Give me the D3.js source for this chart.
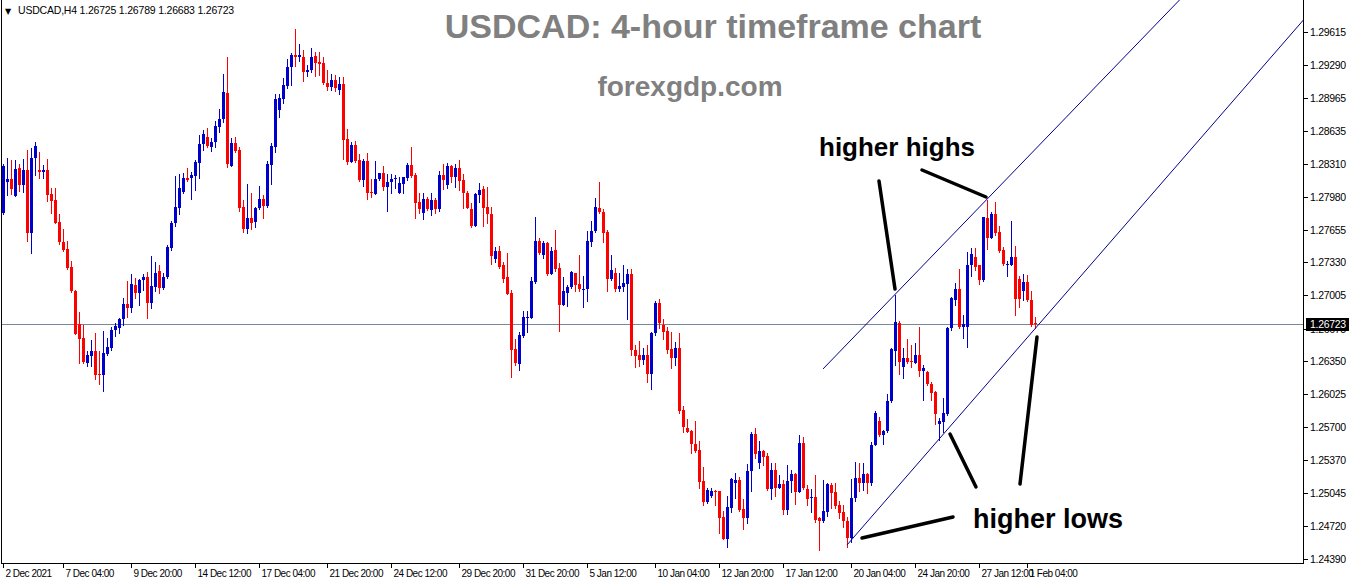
<!DOCTYPE html>
<html><head><meta charset="utf-8">
<script src="https://cdn.jsdelivr.net/npm/d3@7"></script>
<style>body{margin:0;background:#fff}svg{display:block}</style>
</head><body><svg id="c" width="1350" height="584"></svg>
<script>
const openP=[1.2782,1.2813,1.2816,1.2799,1.2827,1.2810,1.2825,1.2762,1.2837,1.2825,1.2823,1.2825,1.2801,1.2795,1.2773,1.2753,1.2746,1.2729,1.2705,1.2672,1.2658,1.2633,1.2640,1.2645,1.2622,1.2621,1.2642,1.2648,1.2666,1.2668,
1.2677,1.2692,1.2688,1.2711,1.2703,1.2716,1.2719,1.2693,1.2709,1.2725,1.2708,1.2719,1.2747,1.2772,1.2787,1.2803,1.2817,1.2817,1.2819,1.2832,1.2850,1.2857,1.2847,1.2852,1.2867,1.2875,1.2901,1.2829,1.2851,1.2845,
1.2788,1.2766,1.2777,1.2773,1.2787,1.2796,1.2789,1.2830,1.2847,1.2884,1.2895,1.2908,1.2927,1.2939,1.2937,1.2937,1.2922,1.2924,1.2938,1.2932,1.2931,1.2911,1.2907,1.2914,1.2904,1.2910,1.2855,1.2833,1.2849,1.2835,
1.2815,1.2834,1.2803,1.2801,1.2816,1.2822,1.2808,1.2813,1.2816,1.2802,1.2811,1.2817,1.2830,1.2820,1.2793,1.2782,1.2796,1.2785,1.2795,1.2786,1.2820,1.2810,1.2829,1.2818,1.2827,1.2815,1.2802,1.2786,1.2769,1.2800,
1.2806,1.2788,1.2781,1.2736,1.2744,1.2730,1.2719,1.2703,1.2647,1.2632,1.2660,1.2678,1.2678,1.2714,1.2754,1.2740,1.2752,1.2722,1.2745,1.2728,1.2691,1.2703,1.2709,1.2723,1.2712,1.2706,1.2707,1.2753,1.2764,1.2787,
1.2783,1.2763,1.2717,1.2723,1.2707,1.2709,1.2712,1.2722,1.2646,1.2641,1.2636,1.2641,1.2622,1.2663,1.2693,1.2671,1.2665,1.2647,1.2638,1.2648,1.2587,1.2569,1.2566,1.2553,1.2547,1.2516,1.2496,1.2501,1.2506,1.2506,
1.2481,1.2459,1.2490,1.2514,1.2517,1.2489,1.2480,1.2526,1.2563,1.2534,1.2546,1.2541,1.2508,1.2527,1.2509,1.2513,1.2488,1.2516,1.2523,1.2505,1.2554,1.2508,1.2499,1.2500,1.2480,1.2477,1.2486,1.2512,1.2505,1.2493,
1.2486,1.2477,1.2460,1.2499,1.2519,1.2514,1.2523,1.2514,1.2552,1.2576,1.2562,1.2566,1.2596,1.2645,1.2673,1.2629,1.2638,1.2635,1.2633,1.2641,1.2625,1.2624,1.2613,1.2605,1.2573,1.2575,1.2583,1.2668,1.2696,1.2707,
1.2669,1.2669,1.2730,1.2738,1.2730,1.2716,1.2777,1.2757,1.2781,1.2763,1.2745,1.2730,1.2730,1.2738,1.2717,1.2705,1.2714,1.2696,1.26725];
const highP=[1.2831,1.2837,1.2835,1.2835,1.2831,1.2836,1.2845,1.2846,1.2852,1.2843,1.2830,1.2836,1.2807,1.2807,1.2781,1.2766,1.2754,1.2734,1.2706,1.2684,1.2671,1.2645,1.2656,1.2663,1.2645,1.2665,1.2658,1.2669,1.2673,1.2678,
1.2698,1.2715,1.2722,1.2718,1.2717,1.2722,1.2724,1.2739,1.2733,1.2730,1.2723,1.2750,1.2774,1.2819,1.2821,1.2822,1.2827,1.2823,1.2835,1.2859,1.2864,1.2866,1.2856,1.2873,1.2885,1.2920,1.2937,1.2856,1.2857,1.2847,
1.2795,1.2811,1.2802,1.2788,1.2809,1.2800,1.2834,1.2851,1.2900,1.2900,1.2916,1.2935,1.2941,1.2964,1.2950,1.2944,1.2929,1.2946,1.2942,1.2942,1.2937,1.2924,1.2920,1.2919,1.2917,1.2917,1.2865,1.2852,1.2853,1.2841,
1.2836,1.2842,1.2816,1.2834,1.2822,1.2829,1.2821,1.2821,1.2820,1.2818,1.2818,1.2832,1.2847,1.2822,1.2802,1.2802,1.2798,1.2802,1.2797,1.2824,1.2831,1.2832,1.2830,1.2831,1.2835,1.2821,1.2804,1.2792,1.2802,1.2812,
1.2809,1.2808,1.2788,1.2748,1.2749,1.2733,1.2742,1.2706,1.2657,1.2664,1.2685,1.2685,1.2719,1.2778,1.2757,1.2754,1.2753,1.2748,1.2765,1.2732,1.2719,1.2711,1.2725,1.2723,1.2740,1.2720,1.2764,1.2774,1.2797,1.2813,
1.2786,1.2765,1.2740,1.2728,1.2723,1.2730,1.2727,1.2727,1.2651,1.2655,1.2648,1.2651,1.2664,1.2695,1.2697,1.2677,1.2669,1.2664,1.2654,1.2663,1.2591,1.2578,1.2567,1.2576,1.2556,1.2530,1.2509,1.2509,1.2507,1.2506,
1.2487,1.2501,1.2519,1.2524,1.2520,1.2498,1.2533,1.2565,1.2569,1.2556,1.2547,1.2544,1.2534,1.2534,1.2522,1.2517,1.2532,1.2527,1.2524,1.2562,1.2560,1.2512,1.2508,1.2522,1.2481,1.2517,1.2514,1.2514,1.2514,1.2497,
1.2493,1.2481,1.2518,1.2535,1.2534,1.2534,1.2524,1.2555,1.2586,1.2580,1.2567,1.2603,1.2648,1.2701,1.2675,1.2648,1.2657,1.2651,1.2653,1.2669,1.2631,1.2625,1.2614,1.2606,1.2579,1.2599,1.2669,1.2699,1.2713,1.2727,
1.2681,1.2743,1.2747,1.2747,1.2730,1.2778,1.2795,1.2783,1.2793,1.2769,1.2748,1.2734,1.2774,1.2749,1.2720,1.2722,1.2721,1.2705,1.26789];
const lowP=[1.2781,1.2800,1.2801,1.2799,1.2804,1.2803,1.2754,1.2742,1.2820,1.2817,1.2817,1.2794,1.2782,1.2772,1.2751,1.2744,1.2727,1.2704,1.2662,1.2633,1.2633,1.2630,1.2630,1.2617,1.2613,1.2606,1.2641,1.2646,1.2660,1.2663,
1.2671,1.2679,1.2684,1.2698,1.2691,1.2706,1.2678,1.2688,1.2705,1.2703,1.2707,1.2718,1.2745,1.2769,1.2781,1.2802,1.2814,1.2796,1.2805,1.2817,1.2845,1.2847,1.2844,1.2847,1.2862,1.2872,1.2828,1.2829,1.2843,1.2784,
1.2763,1.2762,1.2766,1.2768,1.2786,1.2777,1.2788,1.2811,1.2843,1.2877,1.2891,1.2906,1.2909,1.2928,1.2933,1.2913,1.2918,1.2922,1.2918,1.2919,1.2910,1.2904,1.2904,1.2903,1.2900,1.2836,1.2831,1.2833,1.2833,1.2814,
1.2809,1.2796,1.2798,1.2801,1.2815,1.2805,1.2784,1.2802,1.2807,1.2802,1.2802,1.2815,1.2818,1.2777,1.2782,1.2776,1.2785,1.2780,1.2782,1.2784,1.2806,1.2807,1.2813,1.2808,1.2805,1.2787,1.2787,1.2768,1.2769,1.2793,
1.2769,1.2772,1.2731,1.2733,1.2728,1.2714,1.2702,1.2619,1.2631,1.2626,1.2659,1.2664,1.2678,1.2713,1.2741,1.2737,1.2721,1.2722,1.2725,1.2665,1.2691,1.2690,1.2708,1.2705,1.2705,1.2689,1.2695,1.2749,1.2763,1.2782,
1.2753,1.2705,1.2716,1.2705,1.2705,1.2705,1.2677,1.2641,1.2629,1.2630,1.2632,1.2614,1.2608,1.2661,1.2668,1.2657,1.2643,1.2628,1.2631,1.2584,1.2565,1.2565,1.2544,1.2545,1.2509,1.2493,1.2495,1.2500,1.2493,1.2465,
1.2459,1.2451,1.2486,1.2499,1.2487,1.2469,1.2475,1.2506,1.2539,1.2529,1.2532,1.2507,1.2498,1.2501,1.2509,1.2484,1.2484,1.2505,1.2494,1.2505,1.2508,1.2493,1.2486,1.2476,1.2448,1.2476,1.2482,1.2490,1.2490,1.2480,
1.2471,1.2451,1.2456,1.2497,1.2506,1.2507,1.2504,1.2512,1.2552,1.2561,1.2553,1.2565,1.2595,1.2631,1.2622,1.2618,1.2633,1.2629,1.2633,1.2620,1.2597,1.2612,1.2597,1.2573,1.2557,1.2565,1.2582,1.2666,1.2691,1.2668,
1.2658,1.2649,1.2720,1.2726,1.2712,1.2715,1.2746,1.2757,1.2760,1.2743,1.2730,1.2720,1.2730,1.2681,1.2689,1.2696,1.2695,1.2670,1.26683];
const closeP=[1.2829,1.2816,1.2806,1.2826,1.2810,1.2825,1.2762,1.2837,1.2848,1.2823,1.2825,1.2800,1.2794,1.2772,1.2753,1.2745,1.2728,1.2705,1.2662,1.2657,1.2634,1.2641,1.2645,1.2621,1.2621,1.2643,1.2649,1.2666,1.2670,1.2677,
1.2692,1.2688,1.2712,1.2703,1.2716,1.2719,1.2693,1.2710,1.2723,1.2708,1.2719,1.2748,1.2772,1.2788,1.2807,1.2817,1.2815,1.2820,1.2833,1.2850,1.2860,1.2848,1.2852,1.2868,1.2875,1.2902,1.2831,1.2851,1.2844,1.2787,
1.2766,1.2777,1.2772,1.2787,1.2796,1.2789,1.2831,1.2848,1.2895,1.2896,1.2909,1.2927,1.2939,1.2937,1.2939,1.2922,1.2924,1.2937,1.2931,1.2930,1.2911,1.2907,1.2914,1.2906,1.2910,1.2854,1.2833,1.2849,1.2834,1.2815,
1.2834,1.2802,1.2802,1.2816,1.2822,1.2808,1.2813,1.2816,1.2817,1.2812,1.2818,1.2830,1.2819,1.2792,1.2786,1.2796,1.2786,1.2795,1.2786,1.2820,1.2815,1.2829,1.2818,1.2827,1.2814,1.2802,1.2787,1.2769,1.2801,1.2805,
1.2787,1.2781,1.2739,1.2744,1.2729,1.2717,1.2702,1.2646,1.2633,1.2661,1.2679,1.2679,1.2715,1.2754,1.2742,1.2752,1.2722,1.2744,1.2727,1.2691,1.2705,1.2709,1.2724,1.2711,1.2707,1.2707,1.2754,1.2764,1.2788,1.2783,
1.2762,1.2717,1.2726,1.2707,1.2710,1.2713,1.2722,1.2646,1.2640,1.2636,1.2641,1.2622,1.2663,1.2693,1.2673,1.2664,1.2646,1.2638,1.2648,1.2586,1.2570,1.2565,1.2553,1.2546,1.2515,1.2496,1.2507,1.2506,1.2505,1.2480,
1.2459,1.2491,1.2518,1.2517,1.2488,1.2480,1.2526,1.2563,1.2543,1.2546,1.2540,1.2508,1.2527,1.2509,1.2513,1.2488,1.2516,1.2523,1.2505,1.2554,1.2509,1.2498,1.2500,1.2478,1.2477,1.2487,1.2513,1.2504,1.2492,1.2485,
1.2477,1.2460,1.2499,1.2519,1.2514,1.2523,1.2514,1.2552,1.2584,1.2562,1.2566,1.2596,1.2647,1.2674,1.2634,1.2638,1.2634,1.2634,1.2641,1.2625,1.2628,1.2613,1.2604,1.2583,1.2576,1.2584,1.2668,1.2698,1.2707,1.2669,
1.2672,1.2730,1.2741,1.2729,1.2716,1.2778,1.2757,1.2781,1.2762,1.2744,1.2731,1.2731,1.2738,1.2697,1.2697,1.2714,1.2696,1.2671,1.26723];

const priceTicks=[1.29615,1.29290,1.28965,1.28635,1.28310,1.27980,1.27655,1.27330,1.27005,1.26675,1.26350,1.26025,1.25700,1.25370,1.25045,1.24720,1.24390];
const dateLabels=["2 Dec 2021","7 Dec 04:00","9 Dec 20:00","14 Dec 12:00","17 Dec 04:00","21 Dec 20:00","24 Dec 12:00","29 Dec 20:00","31 Dec 20:00","5 Jan 12:00","10 Jan 04:00","12 Jan 20:00","17 Jan 12:00","20 Jan 04:00","24 Jan 20:00","27 Jan 12:00","1 Feb 04:00"];
const dateBars=[0,15,32,48,64,81,97,114,130,146,163,179,195,212,228,244,256];
const lastBar={open:1.26725,high:1.26789,low:1.26683,close:1.26723};
// trend lines: [barIndex, price] anchors
const upperLine=[[205,1.26274],[246,1.27957]];
const lowerLine=[[211,1.24529],[258,1.26673]];

const n=closeP.length;
const svg=d3.select("#c");
const L=2,R=1303,T=0,B=563;
const FONT="Liberation Sans, Arial, sans-serif";
const x=d3.scaleLinear().domain([0,n-1]).range([3,3+4*(n-1)]);
const y=d3.scaleLinear().domain([1.24390,1.29615]).range([559,32]);
const px=i=>Math.round(x(i));

svg.append("defs").append("clipPath").attr("id","plot").append("rect")
  .attr("x",L).attr("y",T).attr("width",R-L).attr("height",B-T);

// bid line
const bidY=Math.round(y(lastBar.close))+0.5;
svg.append("line").attr("x1",L).attr("x2",R).attr("y1",bidY).attr("y2",bidY)
  .attr("stroke","#778899").attr("stroke-width",1);

// candles
const data=d3.range(n).map(i=>({i,o:openP[i],h:highP[i],l:lowP[i],c:closeP[i]}));
const g=svg.append("g").attr("clip-path","url(#plot)");
const cg=g.selectAll("g.c").data(data).join("g");
cg.append("line")
  .attr("x1",d=>px(d.i)+0.5).attr("x2",d=>px(d.i)+0.5)
  .attr("y1",d=>Math.round(y(d.h))).attr("y2",d=>Math.round(y(d.l))+1)
  .attr("stroke",d=>d.c>=d.o?"#0000cc":"#ff0000").attr("stroke-width",1);
cg.append("rect")
  .attr("x",d=>px(d.i)-1).attr("width",3)
  .attr("y",d=>Math.round(y(Math.max(d.o,d.c))))
  .attr("height",d=>Math.max(1,Math.round(y(Math.min(d.o,d.c)))-Math.round(y(Math.max(d.o,d.c)))))
  .attr("fill",d=>d.c>=d.o?"#0000cc":"#ff0000");

// trend lines
function extLine(a){
  const x1=x(a[0][0]),y1=y(a[0][1]),x2=x(a[1][0]),y2=y(a[1][1]);
  const s=(y2-y1)/(x2-x1);
  const xe=1400;
  return [x1,y1,xe,y1+s*(xe-x1)];
}
[upperLine,lowerLine].forEach(a=>{
  const p=extLine(a);
  g.append("line").attr("x1",p[0]).attr("y1",p[1]).attr("x2",p[2]).attr("y2",p[3])
   .attr("stroke","#00008b").attr("stroke-width",1);
});

// frame
svg.append("line").attr("x1",1.5).attr("x2",1.5).attr("y1",T).attr("y2",B+0.5).attr("stroke","#000");
svg.append("line").attr("x1",R+0.5).attr("x2",R+0.5).attr("y1",T).attr("y2",B+0.5).attr("stroke","#000");
svg.append("line").attr("x1",1).attr("x2",R+1).attr("y1",B+0.5).attr("y2",B+0.5).attr("stroke","#000");

// right axis
const ax=svg.append("g").attr("transform",`translate(${R+1},0)`);
priceTicks.forEach(v=>{
  const yy=Math.round(y(v))+0.5;
  ax.append("line").attr("x1",0).attr("x2",4).attr("y1",yy).attr("y2",yy).attr("stroke","#000");
  ax.append("text").attr("x",6).attr("y",yy).attr("dy","0.35em")
    .attr("font-family",FONT).attr("font-size",10.5)
    .attr("letter-spacing","-0.3").attr("fill","#000").text(v.toFixed(5));
});
// bid label (drawn over the neighbouring tick label, as in the reference)
ax.append("rect").attr("x",2).attr("y",bidY-6.5).attr("width",43).attr("height",13).attr("fill","#000");
ax.append("text").attr("x",6).attr("y",bidY).attr("dy","0.35em")
  .attr("font-family",FONT).attr("font-size",10.5)
  .attr("letter-spacing","-0.3").attr("fill","#fff").text(lastBar.close.toFixed(5));

// bottom axis
dateLabels.forEach((t,j)=>{
  const xx=px(dateBars[j])+0.5;
  svg.append("line").attr("x1",xx).attr("x2",xx).attr("y1",B).attr("y2",B+5).attr("stroke","#000");
  svg.append("text").attr("x",xx+2).attr("y",577)
    .attr("font-family",FONT).attr("font-size",10)
    .attr("letter-spacing","-0.5").attr("fill","#000").text(t);
});

// header
svg.append("text").attr("x",5).attr("y",14).attr("font-family","DejaVu Sans, sans-serif").attr("font-size",8).text("▼");
svg.append("text").attr("x",18).attr("y",14)
  .attr("font-family",FONT).attr("font-size",10.5).attr("letter-spacing","-0.2")
  .attr("fill","#000").text("USDCAD,H4  1.26725 1.26789 1.26683 1.26723");

// titles
svg.append("text").attr("x",713).attr("y",38).attr("text-anchor","middle")
  .attr("font-family",FONT).attr("font-weight","bold").attr("font-size",34)
  .attr("fill","#808080").text("USDCAD: 4-hour timeframe chart");
svg.append("text").attr("x",690).attr("y",96).attr("text-anchor","middle")
  .attr("font-family",FONT).attr("font-weight","bold").attr("font-size",28)
  .attr("fill","#808080").text("forexgdp.com");

// annotations
const ann=svg.append("g").attr("stroke","#000").attr("stroke-width",3.5).attr("stroke-linecap","round");
const arrows=[
  [879,181,px(223),Math.round(y(highP[223]))-6],
  [922,170,px(246)-1,Math.round(y(highP[246]))-3],
  [976,487,950,434],
  [1020,484,1037,337],
  [953,517,862,538]
];
arrows.forEach(a=>ann.append("line").attr("x1",a[0]).attr("y1",a[1]).attr("x2",a[2]).attr("y2",a[3]));
svg.append("text").attr("x",897).attr("y",156).attr("text-anchor","middle")
  .attr("font-family",FONT).attr("font-weight","bold").attr("font-size",26)
  .attr("fill","#000").text("higher highs");
svg.append("text").attr("x",1048).attr("y",528).attr("text-anchor","middle")
  .attr("font-family",FONT).attr("font-weight","bold").attr("font-size",27)
  .attr("fill","#000").text("higher lows");
</script></body></html>
